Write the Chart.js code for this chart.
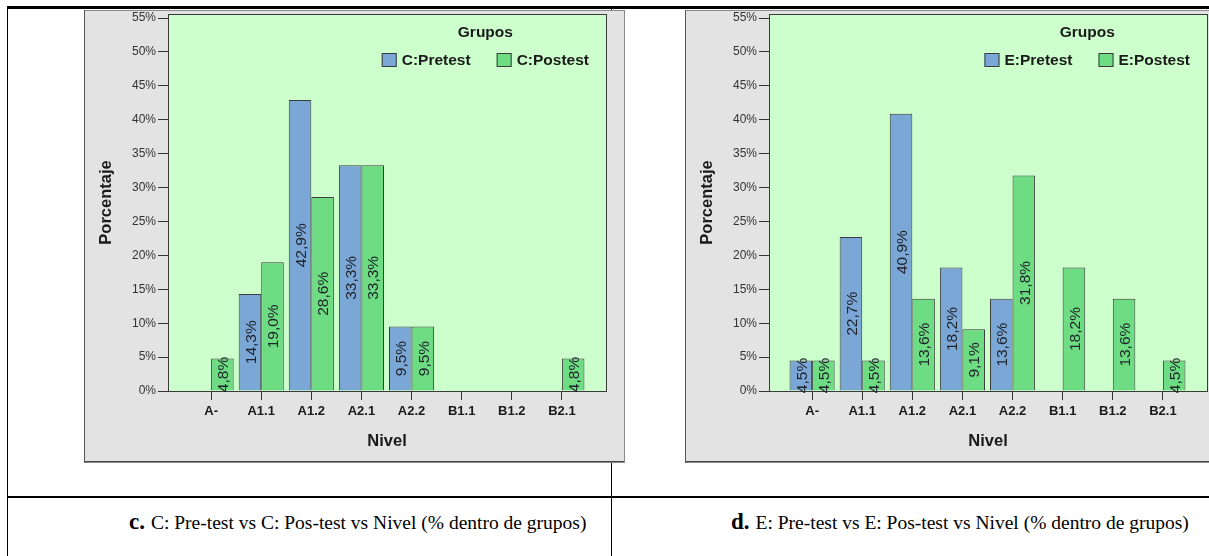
<!DOCTYPE html>
<html><head><meta charset="utf-8">
<script src="https://cdn.jsdelivr.net/npm/chart.js@4.4.1/dist/chart.umd.min.js"></script>
<style>
html,body{margin:0;padding:0;background:#fff;width:1209px;height:556px;overflow:hidden;position:relative;}
.ln{position:absolute;background:#000;}
.panel{position:absolute;top:10px;width:541px;height:453px;background:#e3e3e3;box-shadow:inset 1px 0 0 #555, inset 0 0 0 1px #8a8a8a, inset 0 -2px 0 #444;}
.panel canvas{position:absolute;left:0;top:0;}
.cap{position:absolute;top:509px;font-family:'Liberation Serif','Times New Roman',serif;font-size:19.5px;white-space:nowrap;color:#000;}
.cap b{font-size:23px;margin-right:6px;}
</style></head>
<body>
<div class="ln" style="left:7px;top:6px;width:1202px;height:3px"></div>
<div class="ln" style="left:7px;top:6px;width:1px;height:550px"></div>
<div class="ln" style="left:611px;top:6px;width:1px;height:550px"></div>
<div class="ln" style="left:7px;top:496px;width:1202px;height:2px"></div>
<div class="panel" style="left:84px"><canvas id="c1" width="541" height="453"></canvas></div>
<div class="panel" style="left:685px"><canvas id="c2" width="541" height="453"></canvas></div>
<div class="cap" style="left:129px"><b>c.</b>C: Pre-test vs C: Pos-test vs Nivel (% dentro de grupos)</div>
<div class="cap" style="left:731px"><b>d.</b>E: Pre-test vs E: Pos-test vs Nivel (% dentro de grupos)</div>
<script>
const categories = ['A-','A1.1','A1.2','A2.1','A2.2','B1.1','B1.2','B2.1'];
const yTicks = [0,5,10,15,20,25,30,35,40,45,50,55];
const cPretest = [null,14.3,42.9,33.3,9.5,null,null,null];
const cPostest = [4.8,19.0,28.6,33.3,9.5,null,null,4.8];
const ePretest = [4.5,22.7,40.9,18.2,13.6,null,null,null];
const ePostest = [4.5,4.5,13.6,9.1,31.8,18.2,13.6,4.5];
const labelsC = ['C:Pretest','C:Postest'];
const labelsE = ['E:Pretest','E:Postest'];
const legendTitle = 'Grupos';
const xTitle = 'Nivel';
const yTitle = 'Porcentaje';

const BLUE = '#7ba7d7', GREEN = '#6ddc83', EDGE = '#3c3c3c';
const SANS = "'Liberation Sans', Arial, sans-serif";

const plotDeco = {
  id: 'plotDeco',
  beforeDraw(chart) {
    const a = chart.chartArea, ctx = chart.ctx;
    ctx.save();
    ctx.fillStyle = '#ccffcc';
    ctx.fillRect(a.left, a.top, a.right - a.left, a.bottom - a.top);
    ctx.restore();
  },
  afterDatasetsDraw(chart) {
    const a = chart.chartArea, ctx = chart.ctx;
    ctx.save();
    ctx.strokeStyle = '#3a3a3a';
    ctx.lineWidth = 1;
    ctx.strokeRect(Math.round(a.left) + 0.5, Math.round(a.top) + 0.5,
      Math.round(a.right - a.left), Math.round(a.bottom - a.top));
    ctx.font = '15.5px ' + SANS;
    ctx.fillStyle = '#1f232a';
    ctx.textAlign = 'center';
    ctx.textBaseline = 'middle';
    chart.data.datasets.forEach((ds, di) => {
      const meta = chart.getDatasetMeta(di);
      meta.data.forEach((bar, i) => {
        const v = ds.data[i].y;
        if (v == null) return;
        const txt = v.toFixed(1).replace('.', ',') + '%';
        ctx.save();
        ctx.translate(bar.x + 1.5, (bar.y + bar.base) / 2);
        ctx.rotate(-Math.PI / 2);
        ctx.fillText(txt, 0, 0);
        ctx.restore();
      });
    });
    ctx.restore();
  },
  afterDraw(chart) {
    const a = chart.chartArea, ctx = chart.ctx;
    const ds = chart.data.datasets;
    ctx.save();
    ctx.font = 'bold 15.5px ' + SANS;
    ctx.textBaseline = 'middle';
    ctx.textAlign = 'left';
    const endX = a.right - 17;
    const w2 = ctx.measureText(ds[1].label).width;
    const w1 = ctx.measureText(ds[0].label).width;
    const t2 = endX - w2, b2 = t2 - 20;
    const t1 = b2 - 26 - w1, b1 = t1 - 20;
    const by = a.top + 39, ty = a.top + 47;
    [[b1, t1, 0], [b2, t2, 1]].forEach(([bx, tx, k]) => {
      ctx.fillStyle = ds[k].backgroundColor;
      ctx.fillRect(bx, by, 15, 14);
      ctx.strokeStyle = EDGE; ctx.lineWidth = 1;
      ctx.strokeRect(bx + 0.5, by + 0.5, 14, 13);
      ctx.fillStyle = '#1a1a1a';
      ctx.fillText(ds[k].label, tx, ty);
    });
    ctx.textAlign = 'center';
    ctx.fillText(legendTitle, (b1 + endX) / 2, a.top + 19);
    ctx.restore();
  }
};

function makeChart(id, labels, pre, post) {
  const toPts = arr => arr.map((v, i) => ({x: i, y: v}));
  return new Chart(document.getElementById(id), {
    type: 'bar',
    data: {
      datasets: [
        {label: labels[0], data: toPts(pre), backgroundColor: BLUE, borderColor: EDGE, borderWidth: 1, borderSkipped: 'start'},
        {label: labels[1], data: toPts(post), backgroundColor: GREEN, borderColor: EDGE, borderWidth: 1, borderSkipped: 'start'}
      ]
    },
    options: {
      responsive: false,
      animation: false,
      devicePixelRatio: 1,
      layout: {padding: {top: 4, right: 19, left: 0, bottom: 0}},
      datasets: {bar: {categoryPercentage: 0.9, barPercentage: 1.0}},
      plugins: {legend: {display: false}, tooltip: {enabled: false}},
      scales: {
        x: {
          type: 'linear', min: -0.86, max: 7.88, offset: false,
          afterBuildTicks: s => { s.ticks = categories.map((c, i) => ({value: i})); },
          afterFit: s => { s.height = 72; s.paddingLeft = 0; s.paddingRight = 0; },
          grid: {display: true, drawOnChartArea: false, drawTicks: true, tickLength: 9, tickColor: '#333', offset: false},
          border: {display: true, color: '#333'},
          ticks: {
            autoSkip: false, maxRotation: 0, padding: 4, color: '#1a1a1a',
            font: {family: SANS, size: 13, weight: 'bold'},
            callback: v => categories[v] ?? ''
          },
          title: {display: true, text: xTitle, color: '#1a1a1a', font: {family: SANS, size: 16.5, weight: 'bold'}, padding: {top: 0, bottom: 12}}
        },
        y: {
          min: 0, max: 55.6,
          afterBuildTicks: s => { s.ticks = yTicks.map(v => ({value: v})); },
          afterFit: s => { s.width = 84; s.paddingTop = 0; s.paddingBottom = 0; },
          grid: {display: true, drawOnChartArea: false, drawTicks: true, tickLength: 10, tickColor: '#333'},
          border: {display: true, color: '#333'},
          ticks: {padding: 2, color: '#333', font: {family: SANS, size: 12}, callback: v => v + '%'},
          title: {display: true, text: yTitle, color: '#1a1a1a', font: {family: SANS, size: 16.5, weight: 'bold'}, padding: {top: 13, bottom: 0}}
        }
      }
    },
    plugins: [plotDeco]
  });
}
makeChart('c1', labelsC, cPretest, cPostest);
makeChart('c2', labelsE, ePretest, ePostest);
</script>
</body></html>
